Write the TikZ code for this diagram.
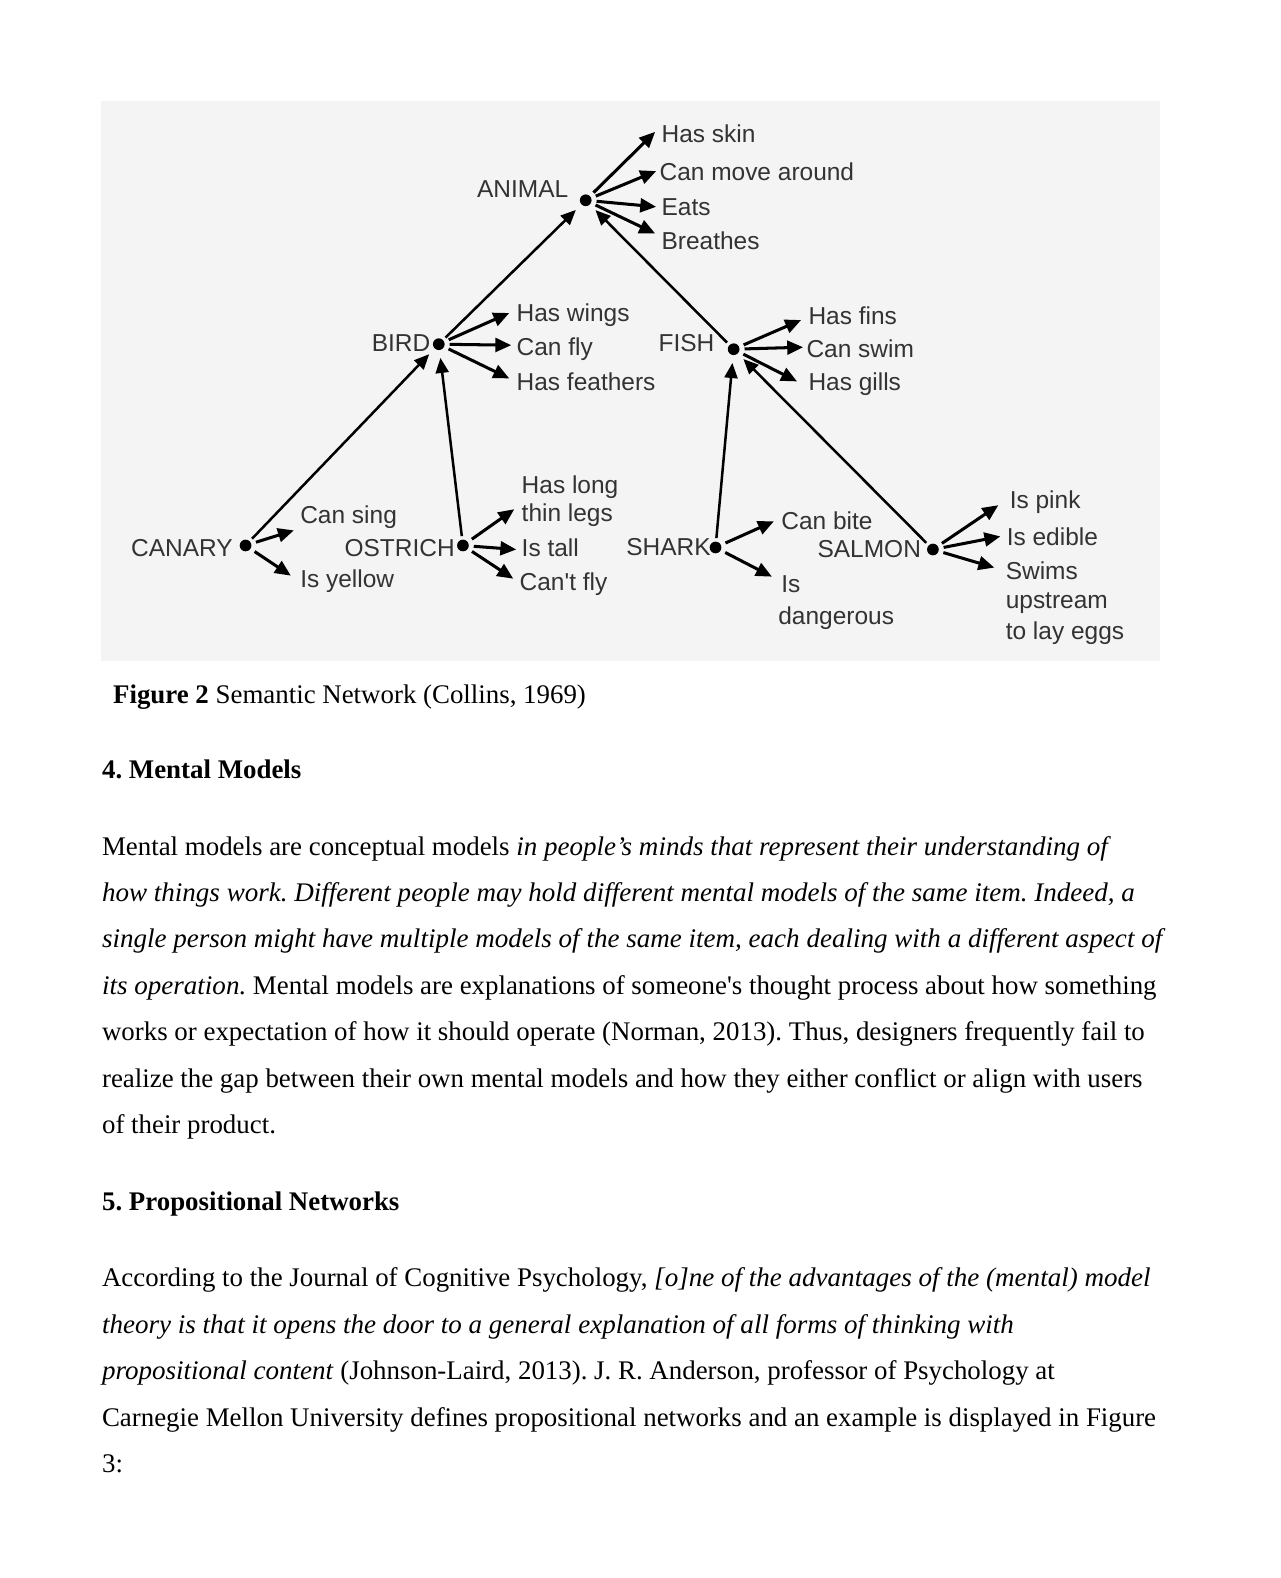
\documentclass[tikz,border=0pt]{standalone}
\usepackage{fontspec}
\setmainfont{Liberation Serif}[Ligatures=TeXOff, ItalicFeatures={FakeStretch=1.006}]
\newfontfamily\diagfont{Liberation Sans}[Ligatures=TeXOff]
\usetikzlibrary{arrows.meta}
\definecolor{figbg}{HTML}{F4F4F4}
\definecolor{labc}{HTML}{333333}
\begin{document}
\frenchspacing
\begin{tikzpicture}[x=0.48113pt,y=-0.48113pt,
  lbl/.style={font=\diagfont\fontsize{11.7}{14}\selectfont, text=labc, inner sep=0pt, text height=8.05pt, text depth=0pt, anchor=west},
  lblr/.style={lbl, anchor=east},
  dotnode/.style={circle, fill=black, minimum size=5.6pt, inner sep=0pt},
  prop/.style={draw=black, line width=1.45pt, -{Triangle[length=7.6pt,width=6.6pt]}, shorten <=2.2pt},
  isa/.style={draw=black, line width=1.2pt, -{Triangle[length=7.2pt,width=6.2pt]}, shorten <=1.5pt, shorten >=3.6pt},
  body/.style={font=\fontsize{12.85}{15}\selectfont, inner sep=0pt, anchor=base west},
  head/.style={body, font=\fontsize{12.85}{15}\selectfont\bfseries},
]
\useasboundingbox (0,0) rectangle (1272,1568);
\fill[white] (0,0) rectangle (1272,1568);
\fill[figbg] (100,100) rectangle (1153,657);

% concept dots
\node[dotnode] (animal) at (582,199) {};
\node[dotnode] (bird) at (436,342) {};
\node[dotnode] (fish) at (729,347) {};
\node[dotnode] (canary) at (244,542) {};
\node[dotnode] (ostrich) at (460,542) {};
\node[dotnode] (shark) at (711,544) {};
\node[dotnode] (salmon) at (927,546) {};

% concept labels
\node[lblr] (animalL) at (565,188) {ANIMAL};
\node[lblr] (birdL) at (428,341) {BIRD};
\node[lbl] (fishL) at (654,341) {FISH};
\node[lbl] (canaryL) at (130,545) {CANARY};
\node[lbl] (ostrichL) at (342,545) {OSTRICH};
\node[lbl] (sharkL) at (622,544) {SHARK};
\node[lbl] (salmonL) at (812,546) {SALMON};

% property labels
\node[lbl] (skin) at (657,133) {Has skin};
\node[lbl] (move) at (655,171) {Can move around};
\node[lbl] (eats) at (657,206) {Eats};
\node[lbl] (breathes) at (657,240) {Breathes};
\node[lbl] (wings) at (513,311) {Has wings};
\node[lbl] (fly) at (513,345) {Can fly};
\node[lbl] (feathers) at (513,380) {Has feathers};
\node[lbl] (fins) at (803,314) {Has fins};
\node[lbl] (swim) at (801,347) {Can swim};
\node[lbl] (gills) at (803,380) {Has gills};
\node[lbl] (sing) at (298,512) {Can sing};
\node[lbl] (yellow) at (298,575) {Is yellow};
\node[lbl] (long1) at (518,482) {Has long};
\node[lbl] (long2) at (518,510) {thin legs};
\node[lbl] (tall) at (518,545) {Is tall};
\node[lbl] (cantfly) at (516,578) {Can't fly};
\node[lbl] (bite) at (776,518) {Can bite};
\node[lbl] (dang1) at (776,580) {Is};
\node[lbl] (dang2) at (773,612) {dangerous};
\node[lbl] (pink) at (1003,497) {Is pink};
\node[lbl] (edible) at (1000,534) {Is edible};
\node[lbl] (swims1) at (999,567) {Swims};
\node[lbl] (swims2) at (999,596) {upstream};
\node[lbl] (swims3) at (999,627) {to lay eggs};

% arrow tips of property links
\coordinate (t-skin) at (651,131);
\coordinate (t-move) at (652,170);
\coordinate (t-eats) at (652,205.5);
\coordinate (t-breathes) at (651,232);
\coordinate (t-wings) at (506,311);
\coordinate (t-fly) at (508,343);
\coordinate (t-feathers) at (506,376);
\coordinate (t-fins) at (796,318);
\coordinate (t-swim) at (798,345);
\coordinate (t-gills) at (792,379);
\coordinate (t-sing) at (292,527);
\coordinate (t-yellow) at (289,572);
\coordinate (t-legs) at (511,506);
\coordinate (t-tall) at (513,546);
\coordinate (t-cantfly) at (510,575);
\coordinate (t-bite) at (769,518);
\coordinate (t-dang) at (767,573);
\coordinate (t-pink) at (992,502);
\coordinate (t-edible) at (994,533);
\coordinate (t-swims) at (988,564);

% isa links
\draw[isa] (bird) -- (animal);
\draw[isa] (fish) -- (animal);
\draw[isa] (canary) -- (bird);
\draw[isa] (ostrich) -- (bird);
\draw[isa] (shark) -- (fish);
\draw[isa] (salmon) -- (fish);

% property links
\foreach \s/\t in {animal/skin, animal/move, animal/eats, animal/breathes,
  bird/wings, bird/fly, bird/feathers, fish/fins, fish/swim, fish/gills,
  canary/sing, canary/yellow, ostrich/legs, ostrich/tall, ostrich/cantfly,
  shark/bite, shark/dang, salmon/pink, salmon/edible, salmon/swims}
  \draw[prop] (\s) -- (t-\t);

% caption and text
\node[body] (cap) at (112,699) {\textbf{Figure 2} Semantic Network (Collins, 1969)};
\node[head] (h4) at (101,773.5) {4. Mental Models};

\node[body] (p1a) at (101,849.7) {Mental models are conceptual models \textit{in people’s minds that represent their understanding of}};
\node[body] (p1b) at (101,895.8) {\textit{how things work. Different people may hold different mental models of the same item. Indeed, a}};
\node[body] (p1c) at (101,941.9) {\textit{single person might have multiple models of the same item, each dealing with a different aspect of}};
\node[body] (p1d) at (101,988) {\textit{its operation.} Mental models are explanations of someone's thought process about how something};
\node[body] (p1e) at (101,1034.1) {works or expectation of how it should operate (Norman, 2013). Thus, designers frequently fail to};
\node[body] (p1f) at (101,1080.2) {realize the gap between their own mental models and how they either conflict or align with users};
\node[body] (p1g) at (101,1126.3) {of their product.};

\node[head] (h5) at (101,1203) {5. Propositional Networks};

\node[body] (p2a) at (101,1278.6) {According to the Journal of Cognitive Psychology, \textit{[o]ne of the advantages of the (mental) model}};
\node[body] (p2b) at (101,1324.8) {\textit{theory is that it opens the door to a general explanation of all forms of thinking with}};
\node[body] (p2c) at (101,1370.9) {\textit{propositional content} (Johnson-Laird, 2013). J. R. Anderson, professor of Psychology at};
\node[body] (p2d) at (101,1417) {Carnegie Mellon University defines propositional networks and an example is displayed in Figure};
\node[body] (p2e) at (101,1463.2) {3:};
\end{tikzpicture}
\end{document}
